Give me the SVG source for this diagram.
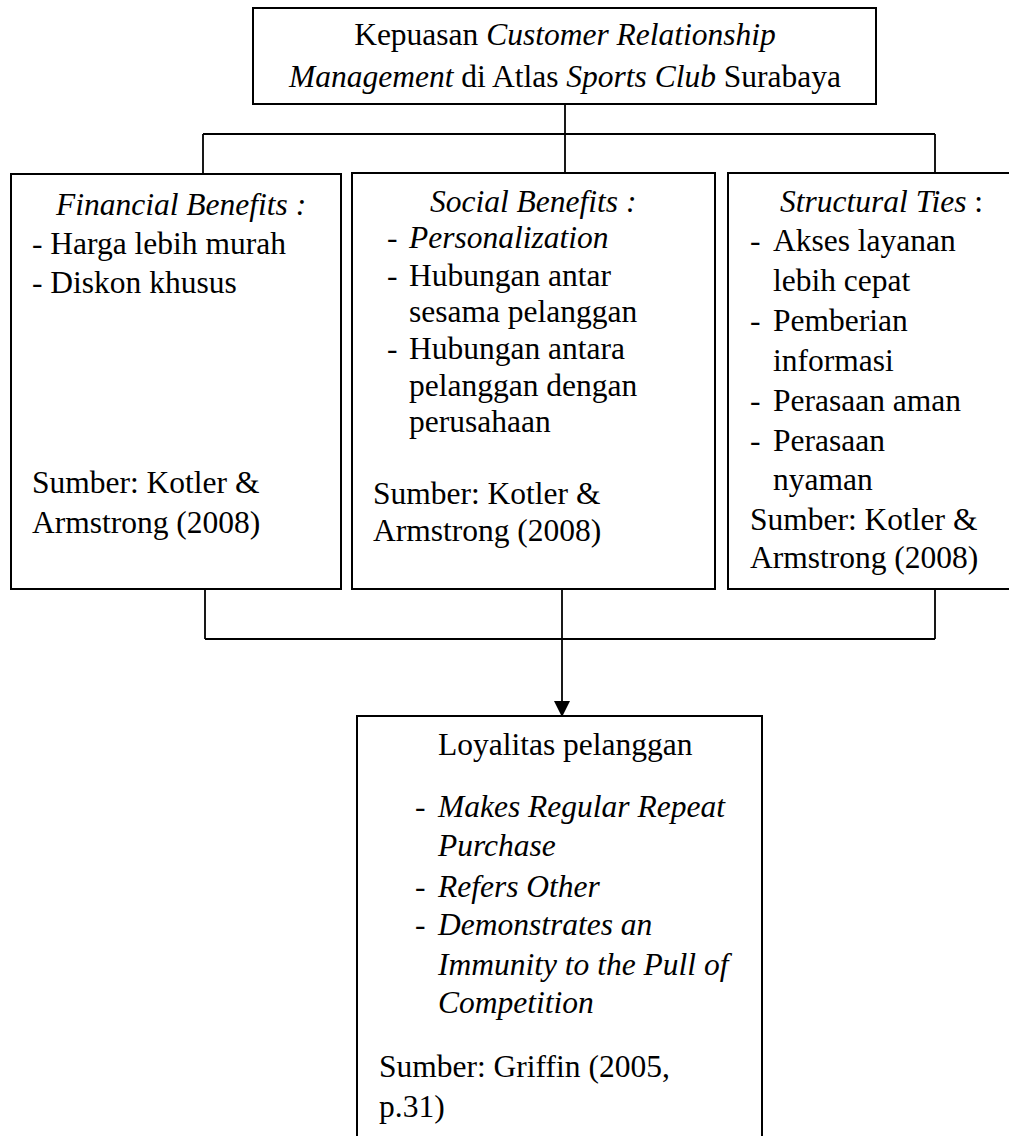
<svg xmlns="http://www.w3.org/2000/svg" width="1009" height="1136" viewBox="0 0 1009 1136">
<style>
.box{fill:#fff;stroke:#000;stroke-width:2}
.ln{fill:none;stroke:#000;stroke-width:1.8}
text{font-family:"Liberation Serif","Times New Roman",serif;font-size:31.5px;fill:#000}
.i{font-style:italic}
</style>
<defs>
<marker id="ah" markerUnits="userSpaceOnUse" markerWidth="16" markerHeight="18" refX="15" refY="8" orient="auto">
<path d="M0,0 L16,8 L0,16 Z" fill="#000"/>
</marker>
</defs>
<rect width="1009" height="1136" fill="#fff"/>
<g id="connectors">
<path class="ln" d="M565,104 V173 M203,134 H935 M203,134 V174 M935,134 V173"/>
<path class="ln" d="M205,589 V639 M935,590 V639 M205,639 H935"/>
<path class="ln" d="M562,589 V716" marker-end="url(#ah)"/>
</g>
<g id="top">
<rect class="box" x="253" y="8" width="623" height="96"/>
<text x="565" y="45" text-anchor="middle">Kepuasan <tspan class="i">Customer Relationship</tspan></text>
<text x="565" y="87" text-anchor="middle"><tspan class="i">Management</tspan> di Atlas <tspan class="i">Sports Club</tspan> Surabaya</text>
</g>
<g id="financial">
<rect class="box" x="11" y="174" width="330" height="415"/>
<text class="i" x="56" y="215">Financial Benefits :</text>
<text x="32" y="254">- Harga lebih murah</text>
<text x="32" y="293">- Diskon khusus</text>
<text x="32" y="493">Sumber: Kotler &amp;</text>
<text x="32" y="533">Armstrong (2008)</text>
</g>
<g id="social">
<rect class="box" x="352" y="173" width="363" height="416"/>
<text class="i" x="430" y="212">Social Benefits :</text>
<text x="387" y="248">-<tspan class="i" x="409">Personalization</tspan></text>
<text x="387" y="286">-<tspan x="409">Hubungan antar</tspan></text>
<text x="409" y="322">sesama pelanggan</text>
<text x="387" y="359">-<tspan x="409">Hubungan antara</tspan></text>
<text x="409" y="396">pelanggan dengan</text>
<text x="409" y="432">perusahaan</text>
<text x="373" y="504">Sumber: Kotler &amp;</text>
<text x="373" y="541">Armstrong (2008)</text>
</g>
<g id="structural">
<rect class="box" x="728" y="173" width="290" height="416"/>
<text x="780" y="212"><tspan class="i">Structural Ties</tspan> :</text>
<text x="750" y="251">-<tspan x="773">Akses layanan</tspan></text>
<text x="773" y="291">lebih cepat</text>
<text x="750" y="331">-<tspan x="773">Pemberian</tspan></text>
<text x="773" y="371">informasi</text>
<text x="750" y="411">-<tspan x="773">Perasaan aman</tspan></text>
<text x="750" y="451">-<tspan x="773">Perasaan</tspan></text>
<text x="773" y="490">nyaman</text>
<text x="750" y="530">Sumber: Kotler &amp;</text>
<text x="750" y="568">Armstrong (2008)</text>
</g>
<g id="loyalitas">
<rect class="box" x="357" y="716" width="405" height="430"/>
<text x="438" y="755">Loyalitas pelanggan</text>
<text x="415" y="817">-<tspan class="i" x="438">Makes Regular Repeat</tspan></text>
<text class="i" x="438" y="856">Purchase</text>
<text x="415" y="897">-<tspan class="i" x="438">Refers Other</tspan></text>
<text x="415" y="935">-<tspan class="i" x="438">Demonstrates an</tspan></text>
<text class="i" x="438" y="975">Immunity to the Pull of</text>
<text class="i" x="438" y="1013">Competition</text>
<text x="379" y="1077">Sumber: Griffin (2005,</text>
<text x="379" y="1117">p.31)</text>
</g>
</svg>
